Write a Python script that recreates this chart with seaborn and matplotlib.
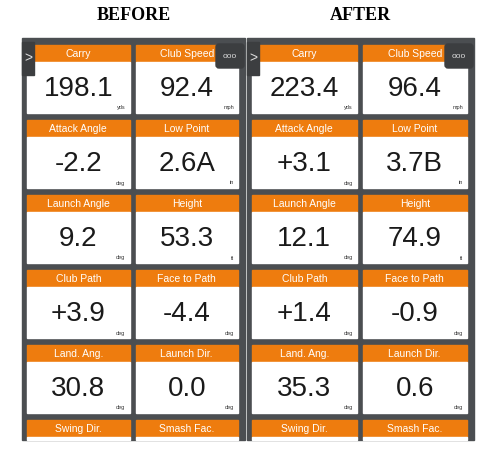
import matplotlib
matplotlib.use("Agg")
import matplotlib.pyplot as plt
import seaborn as sns
from matplotlib.patches import Rectangle, FancyBboxPatch

sns.set_style("white")
plt.rcParams['font.family'] = ['Liberation Sans', 'DejaVu Sans']

# Data
labels = ["Carry", "Club Speed", "Attack Angle", "Low Point", "Launch Angle",
          "Height", "Club Path", "Face to Path", "Land. Ang.", "Launch Dir.",
          "Swing Dir.", "Smash Fac."]
units = ["yds", "mph", "deg", "in", "deg", "ft", "deg", "deg", "deg", "deg", "", ""]
before_values = ["198.1", "92.4", "-2.2", "2.6A", "9.2", "53.3", "+3.9", "-4.4",
                 "30.8", "0.0", "", ""]
after_values = ["223.4", "96.4", "+3.1", "3.7B", "12.1", "74.9", "+1.4", "-0.9",
                "35.3", "0.6", "", ""]
panel_titles = ["BEFORE", "AFTER"]

ORANGE = "#ee7c0e"
DARK = "#4b4e51"

fig = plt.figure(figsize=(4.95, 4.59), dpi=100)
ax = fig.add_axes([0, 0, 1, 1])
ax.set_xlim(0, 495)
ax.set_ylim(459, 0)
ax.axis("off")


def draw_panel(x0, x1, title, values):
    ax.text((x0 + x1) / 2, 15, title, ha="center", va="center", fontsize=13,
            fontweight="bold", family="Liberation Serif", color="black")
    ax.add_patch(Rectangle((x0, 38), x1 - x0, 402, color=DARK, zorder=1))
    tile_w = (x1 - x0 - 18) / 2
    for i, (lab, unit, val) in enumerate(zip(labels, units, values)):
        row, col = divmod(i, 2)
        tx = x0 + 5 + col * (tile_w + 6)
        ty = 45 + row * 75
        h_white = min(51, 440 - (ty + 17))
        ax.add_patch(Rectangle((tx, ty), tile_w, 17, color=ORANGE, zorder=2))
        if h_white > 0:
            ax.add_patch(Rectangle((tx, ty + 17), tile_w, h_white, color="white", zorder=2))
        ax.text(tx + tile_w / 2, ty + 9, lab, ha="center", va="center",
                color="white", fontsize=7.5, zorder=3)
        if val:
            ax.text(tx + tile_w / 2, ty + 44, val, ha="center", va="center",
                    color="#1a1a1a", fontsize=20, zorder=3)
            ax.text(tx + tile_w - 4, ty + 63, unit, ha="right", va="center",
                    color="#333333", fontsize=4, zorder=3)
    # side tab
    ax.add_patch(Rectangle((x0, 42), 12, 33, color="#3c3e40", zorder=4))
    ax.text(x0 + 6, 58, ">", ha="center", va="center", color="#dddddd",
            fontsize=10, zorder=5)
    # menu button
    ax.add_patch(FancyBboxPatch((x1 - 29, 44), 28, 24, boxstyle="round,pad=0,rounding_size=3",
                                color="#3c3e40", zorder=4))
    ax.text(x1 - 15, 57, "ooo", ha="center", va="center", color="#dddddd",
            fontsize=6, zorder=5)


draw_panel(22, 245, panel_titles[0], before_values)
draw_panel(247, 474, panel_titles[1], after_values)

fig.savefig("out.png", dpi=100)
